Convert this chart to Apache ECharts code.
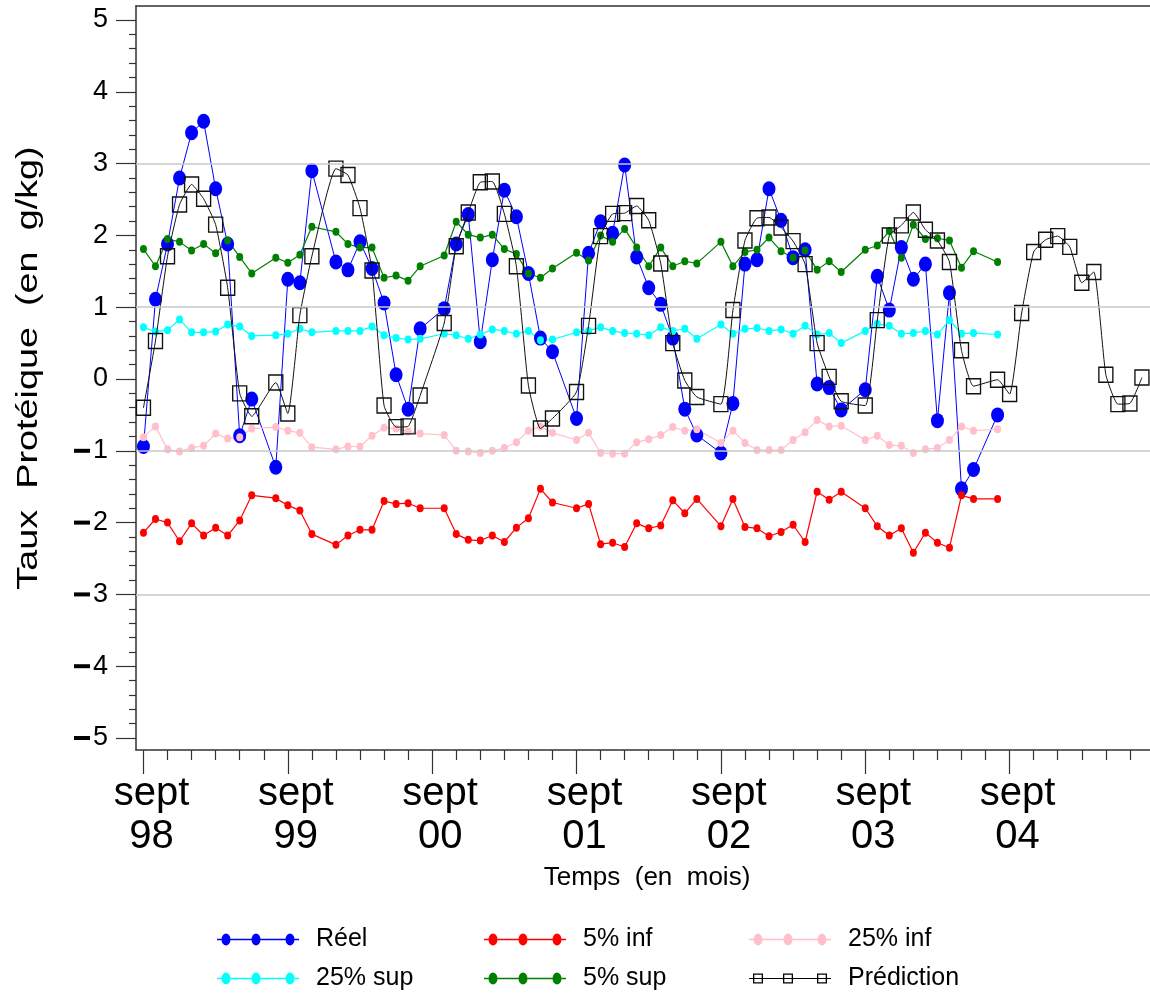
<!DOCTYPE html>
<html><head><meta charset="utf-8">
<script src="https://cdn.jsdelivr.net/npm/echarts@6/dist/echarts.min.js"></script>
<style>html,body{margin:0;padding:0;background:#fff}#c{width:1150px;height:997px}</style>
</head><body><div id="c"></div>
<script>
// month index 0 = sept 98
const xTickMonths = [0, 12, 24, 36, 48, 60, 72];
const xTickLabels = ['sept\n98', 'sept\n99', 'sept\n00', 'sept\n01', 'sept\n02', 'sept\n03', 'sept\n04'];
const yTickValues = [-5, -4, -3, -2, -1, 0, 1, 2, 3, 4, 5];
const gridValues = [3, 1, -1, -3];
const yTitle = 'Taux  Protéique  (en  g/kg)';
const xTitle = 'Temps  (en  mois)';

const reel = [-0.94,1.11,1.88,2.80,3.43,3.59,2.65,1.88,-0.79,-0.28,null,-1.23,
  1.39,1.34,2.90,null,1.63,1.52,1.91,1.54,1.06,0.06,-0.42,0.70,
  null,0.98,1.88,2.29,0.52,1.66,2.63,2.26,1.47,0.57,0.38,null,
  -0.55,1.75,2.19,2.03,2.98,1.70,1.27,1.04,0.57,-0.42,-0.78,null,
  -1.03,-0.34,1.60,1.66,2.65,2.21,1.69,1.80,-0.07,-0.12,-0.43,null,
  -0.15,1.43,0.96,1.83,1.39,1.60,-0.58,1.20,-1.53,-1.26,null,-0.50];
const inf5 = [-2.14,-1.95,-2.00,-2.26,-2.01,-2.18,-2.07,-2.18,-1.97,-1.62,null,-1.66,
  -1.76,-1.83,-2.16,null,-2.31,-2.18,-2.10,-2.10,-1.70,-1.74,-1.73,-1.80,
  null,-1.80,-2.16,-2.24,-2.25,-2.18,-2.27,-2.07,-1.94,-1.53,-1.72,null,
  -1.80,-1.74,-2.30,-2.28,-2.34,-2.01,-2.08,-2.04,-1.69,-1.87,-1.67,null,
  -2.05,-1.67,-2.06,-2.08,-2.19,-2.13,-2.03,-2.27,-1.57,-1.68,-1.57,null,
  -1.80,-2.05,-2.18,-2.08,-2.42,-2.14,-2.28,-2.35,-1.62,-1.67,null,-1.67];
const inf25 = [-0.81,-0.66,-0.98,-1.01,-0.96,-0.93,-0.76,-0.83,-0.81,-0.69,null,-0.67,
  -0.72,-0.75,-0.95,null,-0.98,-0.94,-0.94,-0.79,-0.68,-0.69,-0.73,-0.76,
  null,-0.78,-1.00,-1.01,-1.03,-1.00,-0.96,-0.88,-0.72,-0.66,-0.75,null,
  -0.85,-0.75,-1.03,-1.04,-1.04,-0.88,-0.84,-0.78,-0.67,-0.72,-0.70,null,
  -0.89,-0.72,-0.89,-0.99,-0.99,-0.99,-0.85,-0.74,-0.57,-0.66,-0.65,null,
  -0.85,-0.79,-0.92,-0.93,-1.03,-0.98,-0.96,-0.85,-0.66,-0.72,null,-0.70];
const sup25 = [0.72,0.66,0.68,0.83,0.65,0.65,0.66,0.76,0.73,0.60,null,0.61,
  0.63,0.70,0.65,null,0.67,0.67,0.67,0.73,0.61,0.57,0.55,0.56,
  null,0.63,0.61,0.56,0.62,0.69,0.67,0.63,0.67,0.54,0.55,null,
  0.65,0.67,0.72,0.67,0.64,0.63,0.61,0.72,0.67,0.70,0.56,null,
  0.76,0.63,0.70,0.71,0.67,0.69,0.63,0.74,0.62,0.64,0.50,null,
  0.67,0.77,0.74,0.63,0.64,0.67,0.62,0.82,0.63,0.64,null,0.62];
const sup5 = [1.81,1.57,1.95,1.91,1.79,1.88,1.75,1.93,1.70,1.47,null,1.69,
  1.62,1.73,2.12,null,2.05,1.88,1.83,1.83,1.41,1.44,1.37,1.57,
  null,1.72,2.19,2.01,1.97,2.01,1.81,1.74,1.47,1.41,1.54,null,
  1.76,1.65,2.00,1.91,2.09,1.83,1.57,1.83,1.57,1.64,1.61,null,
  1.91,1.57,1.77,1.80,1.97,1.78,1.69,1.79,1.52,1.64,1.49,null,
  1.80,1.86,2.06,1.69,2.15,1.95,1.96,1.93,1.55,1.78,null,1.63];
const prediction = [-0.40,0.53,1.71,2.43,2.71,2.51,2.15,1.27,-0.20,-0.52,null,-0.05,
  -0.48,0.89,1.71,null,2.93,2.84,2.38,1.51,-0.37,-0.67,-0.66,-0.23,
  null,0.78,1.85,2.32,2.74,2.75,2.30,1.57,-0.09,-0.69,-0.55,null,
  -0.18,0.74,1.99,2.30,2.31,2.41,2.21,1.61,0.50,-0.02,-0.25,null,
  -0.35,0.96,1.93,2.24,2.25,2.11,1.92,1.60,0.50,0.03,-0.31,null,
  -0.37,0.82,2.00,2.14,2.32,2.08,1.93,1.63,0.40,-0.10,null,-0.01,
  -0.21,0.92,1.77,1.94,1.99,1.84,1.34,1.49,0.06,-0.35,-0.34,0.02];

const FONT = "'Liberation Sans',Arial,sans-serif";
// plot spans x 136..1150, y 6..750
const XMIN = -0.62, XMAX = 83.67, YMIN = -5.167, YMAX = 5.195;

// tick positions
const xMinor = [];
for (let m = 2; m <= 82; m += 2) if (m % 12 !== 0) xMinor.push(m);
const yMinor = [];
for (let k = -25; k <= 25; k++) if (k % 5 !== 0) yMinor.push(Math.round(k * 2) / 10);

function pts(arr) { const o = []; arr.forEach((v, i) => { if (v !== null) o.push([i, v]); }); return o; }

function obs(name, arr, color, size, lw) {
  return { name, type: 'line', data: pts(arr), symbol: 'circle', symbolSize: size,
    itemStyle: { color }, lineStyle: { color, width: lw }, emphasis: { disabled: true },
    animation: false, z: 3 };
}

function ell(cx) { return 'M' + (cx - 4.5) + ',6 A4.5,6 0 1 1 ' + (cx + 4.5) + ',6 A4.5,6 0 1 1 ' + (cx - 4.5) + ',6 Z '; }
function seg(a, b) { return 'M' + a + ',5.3 L' + b + ',5.3 L' + b + ',6.7 L' + a + ',6.7 Z '; }
const dotIcon = 'path://' + seg(0, 4.5) + ell(9) + seg(13.5, 34.5) + ell(39) + seg(43.5, 68.5) + ell(73) + seg(77.5, 82);
function sq(cx) {
  const a = cx - 5, b = cx + 5, t = 1.3;
  return 'M' + a + ',1 L' + b + ',1 L' + b + ',11 L' + a + ',11 Z ' +
    'M' + (a + t) + ',' + (1 + t) + ' L' + (a + t) + ',' + (11 - t) + ' L' + (b - t) + ',' + (11 - t) + ' L' + (b - t) + ',' + (1 + t) + ' Z ';
}
const sqIcon = 'path://' + sq(9) + sq(39) + sq(73) + 'M0,5.4 L82,5.4 L82,6.6 L0,6.6 Z';

function leg(name, icon, left, top, color) {
  return { data: [{ name, icon }], left, top, itemWidth: 82, itemHeight: 12, selectedMode: false,
    itemStyle: color ? { color, borderWidth: 0 } : { borderWidth: 0 },
    textStyle: { fontSize: 25, fontFamily: FONT, color: '#000', padding: [0, 0, 0, 12] } };
}

const tickLine = { color: '#333', width: 1.2 };
const frameLine = { color: '#333', width: 1.5 };

const chart = echarts.init(document.getElementById('c'), null, { renderer: 'canvas' });
chart.setOption({
  animation: false,
  backgroundColor: '#fff',
  grid: [{ left: 136, right: 0, top: 6, bottom: 247, show: false }],
  xAxis: [
    { type: 'value', min: XMIN, max: XMAX, position: 'bottom',
      axisLine: { show: true, onZero: false, lineStyle: frameLine },
      axisTick: { show: true, customValues: xTickMonths, length: 24, lineStyle: tickLine },
      axisLabel: { show: true, customValues: xTickMonths, margin: 22,
        formatter: v => xTickLabels[xTickMonths.indexOf(v)] || '',
        fontSize: 40, lineHeight: 43, fontFamily: FONT, color: '#000', padding: [0, 0, 0, 16] },
      splitLine: { show: false },
      name: xTitle, nameLocation: 'middle', nameGap: 115,
      nameTextStyle: { fontSize: 26, fontFamily: FONT, color: '#000', padding: [0, 0, 0, 8] } },
    { type: 'value', min: XMIN, max: XMAX, position: 'bottom',
      axisLine: { show: false, onZero: false },
      axisTick: { show: true, customValues: xMinor, length: 10, lineStyle: tickLine },
      axisLabel: { show: false }, splitLine: { show: false } },
    { type: 'value', min: XMIN, max: XMAX, position: 'top',
      axisLine: { show: true, onZero: false, lineStyle: frameLine },
      axisTick: { show: false }, axisLabel: { show: false }, splitLine: { show: false } }
  ],
  yAxis: [
    { type: 'value', min: YMIN, max: YMAX, position: 'left',
      axisLine: { show: true, onZero: false, lineStyle: frameLine },
      axisTick: { show: true, customValues: yTickValues, length: 20, lineStyle: tickLine },
      axisLabel: { show: true, customValues: yTickValues, margin: 28,
        formatter: v => v < 0 ? '{m| }{g| }' + (-v) : String(v),
        rich: {
          m: { width: 16, height: 4, backgroundColor: '#000', verticalAlign: 'middle', fontSize: 26, fontFamily: FONT },
          g: { width: 3, fontSize: 26, fontFamily: FONT }
        },
        fontSize: 27, fontFamily: FONT, color: '#000' },
      splitLine: { show: false } },
    { type: 'value', min: YMIN, max: YMAX, position: 'left',
      axisLine: { show: false, onZero: false },
      axisTick: { show: true, customValues: yMinor, length: 7, lineStyle: tickLine },
      axisLabel: { show: false }, splitLine: { show: false } }
  ],
  graphic: [{ type: 'text', x: 29, y: 368, rotation: Math.PI / 2, scaleX: 1.26, scaleY: 1,
    style: { text: yTitle, fontSize: 30, fontFamily: FONT, fill: '#000', align: 'center', verticalAlign: 'middle' } }],
  legend: [
    leg('Réel', dotIcon, 212, 922),
    leg('5% inf', dotIcon, 479, 922),
    leg('25% inf', dotIcon, 744, 922),
    leg('25% sup', dotIcon, 212, 961),
    leg('5% sup', dotIcon, 479, 961),
    leg('Prédiction', sqIcon, 744, 961, '#000')
  ],
  series: [
    { name: 'grid', type: 'line', data: [], z: 1, silent: true,
      markLine: { silent: true, symbol: 'none', label: { show: false }, animation: false,
        lineStyle: { color: '#c8c8c8', width: 1.5, type: 'solid' },
        data: gridValues.map(v => ({ yAxis: v })) } },
    obs('Réel', reel, '#0000ff', [13, 15], 1),
    obs('5% inf', inf5, '#ff0000', [7, 8], 1.2),
    obs('25% inf', inf25, '#ffc0cb', [7, 8], 1.2),
    obs('25% sup', sup25, '#00ffff', [7, 8], 1.2),
    obs('5% sup', sup5, '#008000', [7, 8], 1.2),
    { name: 'Prédiction', type: 'line', data: pts(prediction), symbol: 'rect', symbolSize: [14, 15],
      smooth: 0.15,
      itemStyle: { color: 'rgba(255,255,255,0)', borderColor: '#111', borderWidth: 1.4 },
      lineStyle: { color: '#111', width: 1 }, emphasis: { disabled: true }, animation: false, z: 4 }
  ]
});
</script></body></html>
